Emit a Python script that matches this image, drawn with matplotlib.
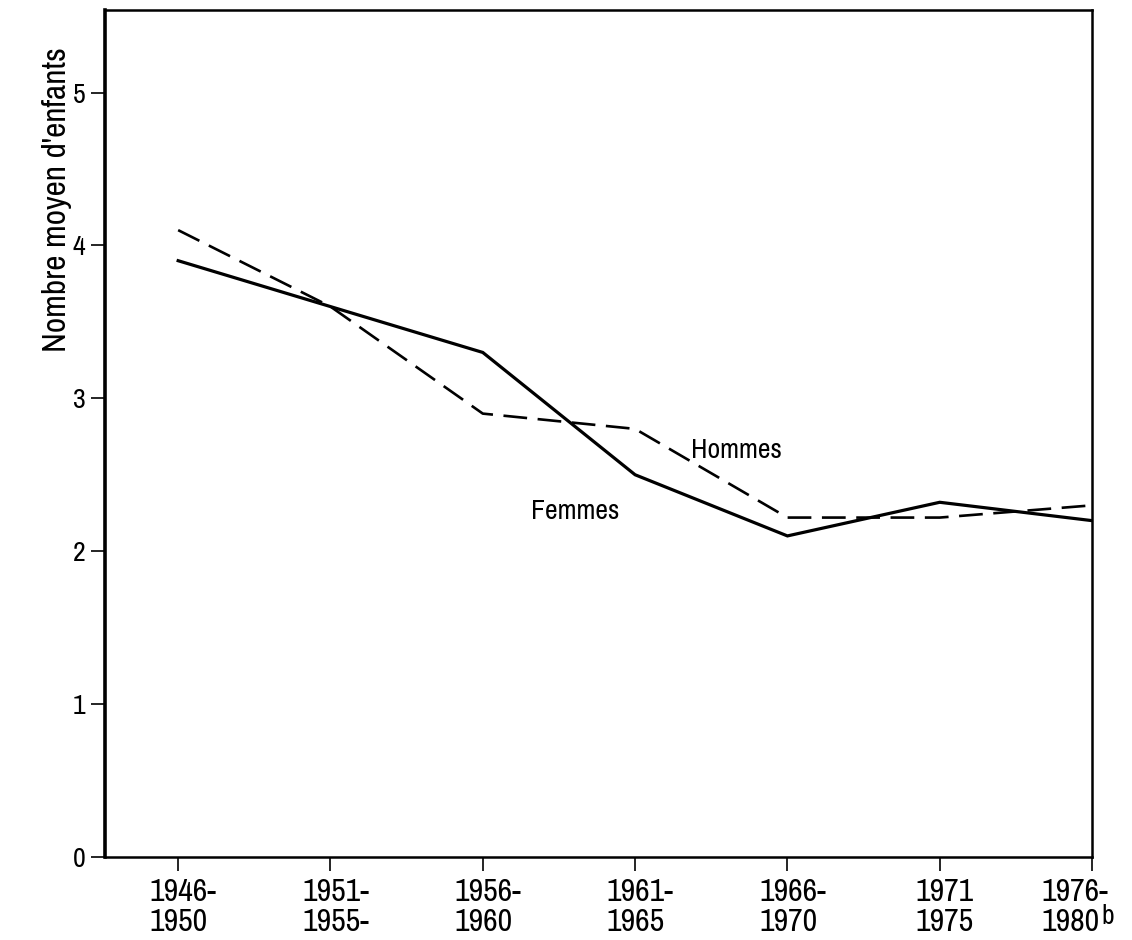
import matplotlib
matplotlib.use("Agg")
import matplotlib.pyplot as plt
from matplotlib.transforms import ScaledTranslation

plt.rcParams['font.family'] = ['Archivo Narrow', 'DejaVu Sans']

periods = ["1946-\n1950", "1951-\n1955-", "1956-\n1960", "1961-\n1965",
           "1966-\n1970", "1971\n1975", "1976-\n1980"]
femmes = [3.9, 3.6, 3.3, 2.5, 2.1, 2.32, 2.2]
hommes = [4.1, 3.6, 2.9, 2.8, 2.22, 2.22, 2.3]
yticks = [0, 1, 2, 3, 4, 5]

fig = plt.figure(figsize=(11.32, 9.4), dpi=100)
ax = fig.add_axes([0.0928, 0.0883, 0.8719, 0.9011])
x = list(range(len(periods)))
ax.plot(x, femmes, color='black', lw=2.3, solid_joinstyle='miter')
ax.plot(x, hommes, color='black', lw=1.9, dashes=(9, 4))

ax.set_xlim(-0.48, 6.0)
ax.set_ylim(0, 5.54)
ax.set_xticks(x)
ax.set_xticklabels(periods, fontsize=23, linespacing=1.08, multialignment='left')
ax.set_yticks(yticks)
ax.set_yticklabels([str(v) for v in yticks], fontsize=20)
ax.tick_params(direction='out', length=10, width=1.2)
ax.tick_params(axis='x', pad=5)
ax.tick_params(axis='y', pad=4)
for s in ax.spines.values():
    s.set_linewidth(1.8)
ax.spines['left'].set_linewidth(2.6)

for lab in ax.get_xticklabels()[:-1]:
    lab.set_transform(lab.get_transform() + ScaledTranslation(5 / 100, 0, fig.dpi_scale_trans))
last = ax.get_xticklabels()[-1]
last.set_transform(last.get_transform() + ScaledTranslation(-17 / 100, 0, fig.dpi_scale_trans))

ax.set_ylabel("Nombre moyen d'enfants", fontsize=24)
ax.yaxis.set_label_coords(-0.0334, 0.776)
ax.text(3.37, 2.61, "Hommes", fontsize=20)
ax.text(2.316, 2.21, "Femmes", fontsize=20)
fig.text(1101 / 1132, 1 - 904 / 940, "b", fontsize=20, ha='left', va='top')

fig.savefig("out.png", dpi=100)
